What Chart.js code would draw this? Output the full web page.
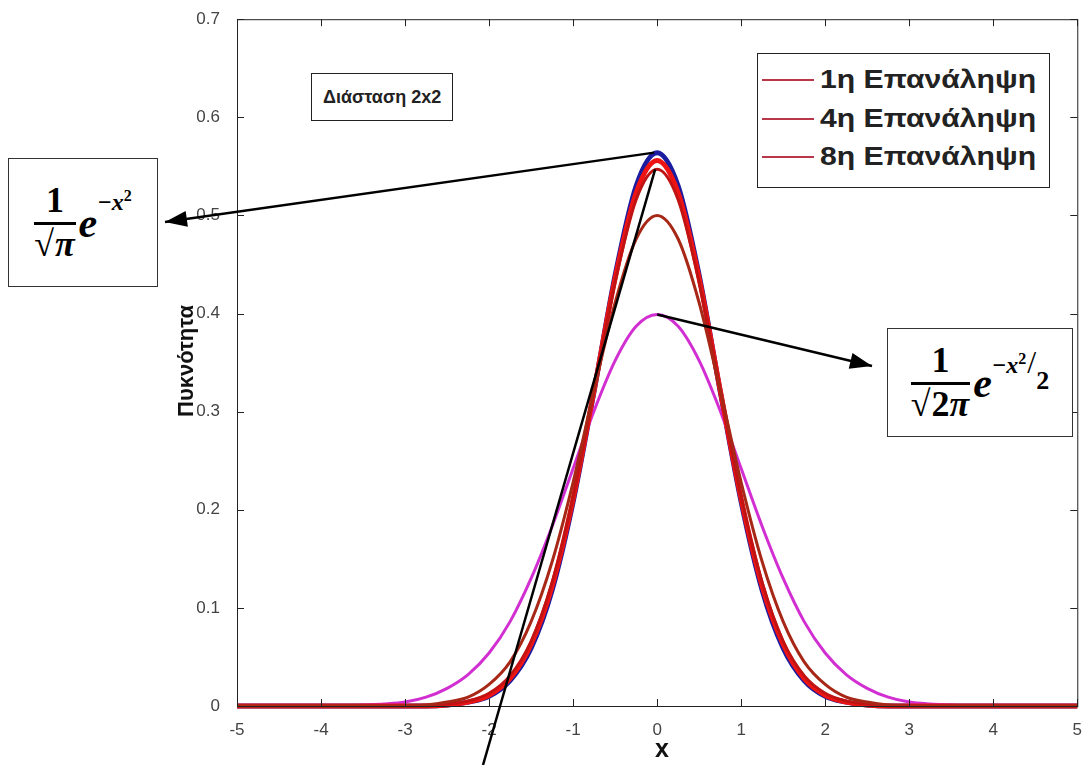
<!DOCTYPE html>
<html lang="el">
<head>
    <meta charset="UTF-8">
    <title>Πυκνότητα - Διάσταση 2x2</title>
    <script src="https://cdn.jsdelivr.net/npm/chart.js"></script>
    <style>
        body {
            margin: 0;
            background: #fff;
            font-family: 'Liberation Sans', Arial, sans-serif;
        }
        #wrap {
            position: relative;
            width: 1088px;
            height: 765px;
            overflow: hidden;
        }
        #densityChart {
            position: absolute;
            left: 0;
            top: 0;
        }
        .box {
            position: absolute;
            background: #fff;
            border: 1.5px solid #222;
            box-sizing: border-box;
        }
        .legend .row {
            position: absolute;
            left: 4px;
            display: flex;
            align-items: center;
            font-weight: 700;
            font-size: 26px;
            color: #222;
            white-space: nowrap;
        }
        .legend .row i {
            display: inline-block;
            width: 52px;
            height: 2px;
            background: #b8384a;
            margin-right: 6px;
        }
        .legend .row span {
            display: inline-block;
            transform: scaleX(1.16);
            transform-origin: left center;
        }
        .dim {
            left: 311px;
            top: 73px;
            height: 48px;
            padding: 0 11px;
            display: flex;
            align-items: center;
            font-weight: 700;
            font-size: 18px;
            color: #222;
            white-space: nowrap;
        }
        .formula {
            display: flex;
            align-items: center;
            justify-content: center;
            font-family: 'Liberation Serif', serif;
            font-weight: 700;
            color: #000;
            border-color: #333;
            border-width: 1px;
        }
        .frac {
            display: inline-flex;
            flex-direction: column;
            align-items: center;
            font-size: 36px;
            line-height: 1.1;
        }
        .frac .num {
            padding: 0 4px 1px;
            border-bottom: 3px solid #000;
            align-self: stretch;
            text-align: center;
        }
        .rc {
            border-top: 2px solid #000;
            font-style: italic;
            padding: 0 1px;
        }
        .ex {
            font-style: italic;
            font-size: 42px;
            margin-left: 3px;
        }
        .sup {
            font-style: italic;
            font-size: 24px;
            position: relative;
            top: -20px;
        }
        .sup small {
            font-size: 16px;
            position: relative;
            top: -9px;
            font-style: normal;
        }
        .sup .slash {
            font-size: 32px;
            font-style: normal;
            font-weight: 400;
            margin-left: 1px;
        }
        .sup .low {
            font-size: 26px;
            font-style: normal;
            position: relative;
            top: 16px;
        }
        .axis-title {
            position: absolute;
            font-weight: 700;
            color: #111;
            white-space: nowrap;
        }
    </style>
</head>
<body>
<div id="wrap">
    <canvas id="densityChart" width="1088" height="765"></canvas>

    <div class="box dim">Διάσταση 2x2</div>

    <div class="box legend" style="left:757px; top:53px; width:293px; height:135px;">
        <div class="row" style="top:10px;"><i></i><span>1η Επανάληψη</span></div>
        <div class="row" style="top:49px;"><i></i><span>4η Επανάληψη</span></div>
        <div class="row" style="top:87px;"><i></i><span>8η Επανάληψη</span></div>
    </div>

    <div class="box formula" style="left:8px; top:158px; width:150px; height:129px;">
        <span class="frac"><span class="num">1</span><span>√<span class="rc">π</span></span></span><span class="ex">e</span><span class="sup">−x<small>2</small></span>
    </div>

    <div class="box formula" style="left:887px; top:328px; width:186px; height:109px;">
        <span class="frac"><span class="num">1</span><span>√<span class="rc" style="font-style:normal">2<i>π</i></span></span></span><span class="ex">e</span><span class="sup">−x<small>2</small><span class="slash">/</span><span class="low">2</span></span>
    </div>

    <div class="axis-title" style="left:662px; top:748px; transform:translate(-50%,-50%); font-size:25px;">x</div>
    <div class="axis-title" style="left:186px; top:361px; transform:translate(-50%,-50%) rotate(-90deg); font-size:22px;">Πυκνότητα</div>
</div>

<script>
    // x grid of the estimated densities (step 0.25)
    const xs = [-5, -4.75, -4.5, -4.25, -4, -3.75, -3.5, -3.25, -3, -2.75, -2.5, -2.25, -2, -1.75, -1.5, -1.25, -1, -0.75, -0.5, -0.25,
                0, 0.25, 0.5, 0.75, 1, 1.25, 1.5, 1.75, 2, 2.25, 2.5, 2.75, 3, 3.25, 3.5, 3.75, 4, 4.25, 4.5, 4.75, 5];

    // iterations of the estimate
    const iter1 = [0, 0, 0, 0, 0, 0, 0, 0, 0, 0.001, 0.004, 0.009, 0.022, 0.045, 0.086, 0.147, 0.228, 0.322, 0.411, 0.476,
                   0.500, 0.476, 0.411, 0.322, 0.228, 0.147, 0.086, 0.045, 0.022, 0.009, 0.004, 0.001, 0, 0, 0, 0, 0, 0, 0, 0, 0];
    const iter4 = [0, 0, 0, 0, 0, 0, 0, 0, 0, 0, 0.002, 0.005, 0.013, 0.031, 0.066, 0.126, 0.213, 0.322, 0.432, 0.516,
                   0.547, 0.516, 0.432, 0.322, 0.213, 0.126, 0.066, 0.031, 0.013, 0.005, 0.002, 0, 0, 0, 0, 0, 0, 0, 0, 0, 0];
    const iter8 = [0, 0, 0, 0, 0, 0, 0, 0, 0, 0, 0.001, 0.004, 0.011, 0.028, 0.063, 0.122, 0.211, 0.322, 0.436, 0.523,
                   0.556, 0.523, 0.436, 0.322, 0.211, 0.122, 0.063, 0.028, 0.011, 0.004, 0.001, 0, 0, 0, 0, 0, 0, 0, 0, 0, 0];

    // reference densities: 1/sqrt(pi) e^{-x^2} and 1/sqrt(2pi) e^{-x^2/2}
    const target = [0, 0, 0, 0, 0, 0, 0, 0, 0, 0, 0.001, 0.004, 0.010, 0.026, 0.059, 0.118, 0.208, 0.321, 0.439, 0.530,
                    0.564, 0.530, 0.439, 0.321, 0.208, 0.118, 0.059, 0.026, 0.010, 0.004, 0.001, 0, 0, 0, 0, 0, 0, 0, 0, 0, 0];
    const normal = [0, 0, 0, 0, 0, 0, 0.001, 0.002, 0.004, 0.009, 0.018, 0.032, 0.054, 0.086, 0.130, 0.183, 0.242, 0.301, 0.352, 0.387,
                    0.399, 0.387, 0.352, 0.301, 0.242, 0.183, 0.130, 0.086, 0.054, 0.032, 0.018, 0.009, 0.004, 0.002, 0.001, 0, 0, 0, 0, 0, 0];

    const xTicks = [-5, -4, -3, -2, -1, 0, 1, 2, 3, 4, 5];
    const yTicks = [0, 0.1, 0.2, 0.3, 0.4, 0.5, 0.6, 0.7];

    function pts(ys) {
        return xs.map((x, i) => ({ x: x, y: ys[i] }));
    }

    function series(label, ys, color, width, order) {
        return {
            label: label,
            data: pts(ys),
            borderColor: color,
            borderWidth: width,
            pointRadius: 0,
            cubicInterpolationMode: 'monotone',
            fill: false,
            clip: 4,
            order: order
        };
    }

    function arrow(ctx, x1, y1, x2, y2, head) {
        ctx.beginPath();
        ctx.moveTo(x1, y1);
        ctx.lineTo(x2, y2);
        ctx.stroke();
        if (!head) return;
        const a = Math.atan2(y2 - y1, x2 - x1);
        ctx.beginPath();
        ctx.moveTo(x2, y2);
        ctx.lineTo(x2 - 22 * Math.cos(a) + 8 * Math.sin(a), y2 - 22 * Math.sin(a) - 8 * Math.cos(a));
        ctx.lineTo(x2 - 22 * Math.cos(a) - 8 * Math.sin(a), y2 - 22 * Math.sin(a) + 8 * Math.cos(a));
        ctx.closePath();
        ctx.fill();
    }

    // matlab style frame: box round the axes, ticks pointing inward, pointer lines
    const framePlugin = {
        id: 'frame',
        afterDraw(chart) {
            const { ctx, chartArea: a, scales } = chart;
            ctx.save();
            ctx.strokeStyle = '#222';
            ctx.lineWidth = 1;
            ctx.strokeRect(a.left + 0.5, a.top + 0.5, a.right - a.left, a.bottom - a.top);
            ctx.beginPath();
            xTicks.forEach(v => {
                const px = Math.round(scales.x.getPixelForValue(v)) + 0.5;
                ctx.moveTo(px, a.bottom); ctx.lineTo(px, a.bottom - 7);
                ctx.moveTo(px, a.top); ctx.lineTo(px, a.top + 7);
            });
            yTicks.forEach(v => {
                const py = Math.round(scales.y.getPixelForValue(v)) + 0.5;
                ctx.moveTo(a.left, py); ctx.lineTo(a.left + 7, py);
                ctx.moveTo(a.right, py); ctx.lineTo(a.right - 7, py);
            });
            ctx.stroke();

            ctx.strokeStyle = '#000';
            ctx.fillStyle = '#000';
            ctx.lineWidth = 2.5;
            const px0 = scales.x.getPixelForValue(0);
            arrow(ctx, px0 - 3, scales.y.getPixelForValue(target[20]), 165, 222, true);
            arrow(ctx, px0, scales.y.getPixelForValue(normal[20]), 872, 366, true);
            arrow(ctx, px0 - 2, scales.y.getPixelForValue(iter4[20]), 483, 765, false);
            ctx.restore();
        }
    };

    const tickFont = { family: "'Liberation Sans', Arial, sans-serif", size: 17 };

    new Chart(document.getElementById('densityChart'), {
        type: 'line',
        data: {
            datasets: [
                series('1η Επανάληψη', iter1, '#a82818', 3, 0),
                series('4η Επανάληψη', iter4, '#c01414', 3, 1),
                series('8η Επανάληψη', iter8, '#ee1414', 5, 2),
                series('1/sqrt(2pi) e^(-x^2/2)', normal, '#d22fd2', 3, 3),
                series('1/sqrt(pi) e^(-x^2)', target, '#1c1ca0', 5, 4)
            ]
        },
        options: {
            responsive: false,
            animation: false,
            layout: { padding: { left: 0, top: 18, right: 5, bottom: 0 } },
            plugins: {
                legend: { display: false },
                tooltip: { enabled: false }
            },
            scales: {
                x: {
                    type: 'linear',
                    min: -5,
                    max: 5,
                    afterFit: s => { s.height = 59; },
                    afterBuildTicks: s => { s.ticks = xTicks.map(v => ({ value: v })); },
                    grid: { display: false },
                    border: { display: false },
                    ticks: { font: tickFont, color: '#444', padding: 6, maxRotation: 0 }
                },
                y: {
                    min: 0,
                    max: 0.7,
                    afterFit: s => { s.width = 237; },
                    afterBuildTicks: s => { s.ticks = yTicks.map(v => ({ value: v })); },
                    grid: { display: false },
                    border: { display: false },
                    ticks: {
                        font: tickFont,
                        color: '#444',
                        padding: 9,
                        callback: v => v === 0 ? '0' : v.toFixed(1)
                    }
                }
            }
        },
        plugins: [framePlugin]
    });
</script>
</body>
</html>
